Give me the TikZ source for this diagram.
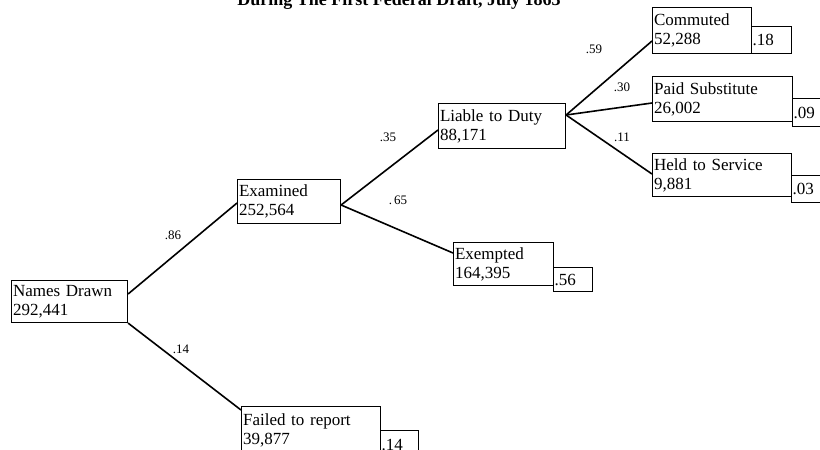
\documentclass[tikz,border=0pt]{standalone}
\usepackage{fontspec}
\setmainfont{Liberation Serif}
\begin{document}
\begin{tikzpicture}[x=1pt,y=-1pt,
  box/.style={draw=black, line width=1.1pt, anchor=north west, inner xsep=1.5pt, inner ysep=0pt,
              align=left, font=\fontsize{17}{19}\selectfont},
  val/.style={draw=black, line width=1.1pt, anchor=north west, inner xsep=1pt, inner ysep=0pt,
              align=left, font=\fontsize{17}{19}\selectfont},
  conn/.style={line width=1.6pt, black},
  prob/.style={font=\fontsize{13}{15}\selectfont, inner sep=0pt}]
\useasboundingbox (0,0) rectangle (820,450);

\node[font=\bfseries\fontsize{18}{20}\selectfont, anchor=base] (title) at (399,5) {During The First Federal Draft, July 1863};

% main boxes
\node[box, text width=113pt, minimum height=42pt] (nd) at (11,280) {Names Drawn\\292,441};
\node[box, text width=100pt, minimum height=44pt] (ex) at (237,179) {Examined\\252,564};
\node[box, text width=124pt, minimum height=45pt] (lia) at (438,103) {Liable to Duty\\88,171};
\node[box, text width=97pt, minimum height=43pt] (exm) at (453,242) {Exempted\\164,395};
\node[box, text width=136pt, minimum height=48pt] (fr) at (241,406) {Failed to report\\39,877};
\node[box, text width=96pt, minimum height=46pt] (com) at (652,7) {Commuted\\52,288};
\node[box, text width=137pt, minimum height=45pt] (paid) at (652,76) {Paid Substitute\\26,002};
\node[box, text width=136pt, minimum height=43pt] (held) at (652,153) {Held to Service\\9,881};

% value boxes
\node[val, text width=38pt, minimum height=27pt] (v18) at (751,26) {.18};
\node[val, text width=37pt, minimum height=24pt] (v56) at (553,267) {.56};
\node[val, text width=41pt, minimum height=28pt] (v09) at (792,98) {.09};
\node[val, text width=42pt, minimum height=27pt] (v03) at (791,175) {.03};
\node[val, text width=36pt, minimum height=28pt] (v14) at (380,430) {.14};

% connectors
\draw[conn] ([yshift=-14pt]nd.north east) -- ([yshift=-24pt]ex.north west);
\draw[conn] (nd.south east) -- ([yshift=-4pt]fr.north west);
\draw[conn] ([yshift=-26pt]ex.north east) -- ([yshift=-27pt]lia.north west);
\draw[conn] ([yshift=-26pt]ex.north east) -- ([yshift=-11pt]exm.north west);
\draw[conn] ([yshift=-12pt]lia.north east) -- ([yshift=-34pt]com.north west);
\draw[conn] ([yshift=-12pt]lia.north east) -- ([yshift=-27pt]paid.north west);
\draw[conn] ([yshift=-12pt]lia.north east) -- ([yshift=-21pt]held.north west);

% probabilities
\node[prob] (p86) at (173,235) {.86};
\node[prob] (p14) at (181,349) {.14};
\node[prob] (p35) at (388,137) {.35};
\node[prob] (p65) at (398,200) {.\,65};
\node[prob] (p59) at (594,49) {.59};
\node[prob] (p30) at (622,87) {.30};
\node[prob] (p11) at (622,137) {.11};
\end{tikzpicture}
\end{document}
